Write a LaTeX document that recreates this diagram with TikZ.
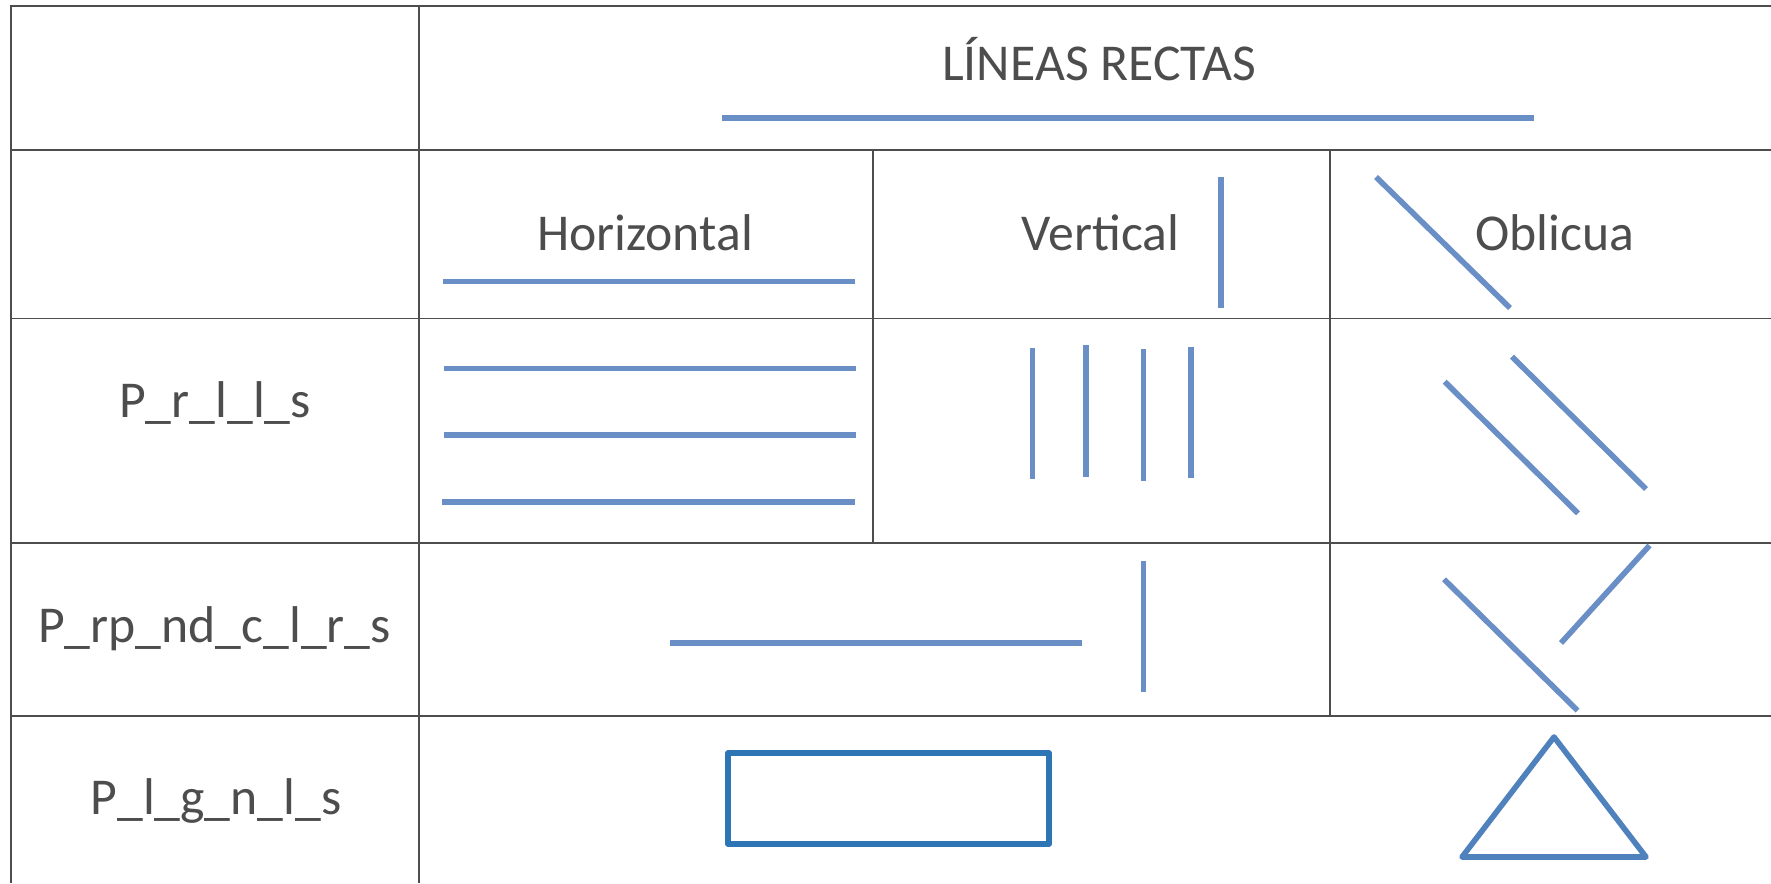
\documentclass[tikz,border=0pt]{standalone}
\usepackage{fontspec}
\setmainfont{Carlito}
\definecolor{gris}{HTML}{4D4D4D}
\definecolor{azulclaro}{HTML}{6A8FC6}
\definecolor{azulfig}{HTML}{2E75B6}
\definecolor{azultri}{HTML}{4F81BD}
\tikzset{
  borde/.style={draw=gris, line width=0.85pt},
  recta/.style={draw=azulclaro, line width=2.8pt},
  figura/.style={line width=2.8pt, line join=round},
  rotulo/.style={anchor=base, text=gris, inner sep=0pt, font=\fontsize{25.85}{31}\selectfont}
}
\begin{document}
\begin{tikzpicture}[x=0.5pt, y=-0.5pt]
      \useasboundingbox (0,0) rectangle (1771,883);
      % cuadricula
      \draw[borde] (1771,6) -- (11,6) -- (11,883);
      \draw[borde] (11,150) -- (1771,150);
      \draw[borde] (11,318.5) -- (1771,318.5);
      \draw[borde] (11,543) -- (1771,543);
      \draw[borde] (11,716) -- (1771,716);
      \draw[borde] (419,6) -- (419,883);
      \draw[borde] (873,150) -- (873,543);
      \draw[borde] (1330,150) -- (1330,716);
      % cabecera
      \node[rotulo] (titulo) at (1099,81) {LÍNEAS RECTAS};
      \draw[recta] (722,118) -- (1534,118);
      \node[rotulo] (horiz) at (645,250) {Horizontal};
      \node[rotulo] (vert) at (1100.5,250) {Vertical};
      \node[rotulo] (obl) at (1555,250) {Oblicua};
      \draw[recta] (443,281.5) -- (855,281.5);
      \draw[recta] (1221,176.7) -- (1221,308.3);
      \draw[recta] (1376,177) -- (1510,308);
      % paralelas
      \node[rotulo] (paral) at (215,417) {P\_r\_l\_l\_s};
      \draw[recta] (443.7,368.3) -- (856,368.3);
      \draw[recta] (443.7,435) -- (856,435);
      \draw[recta] (442,502) -- (855,502);
      \draw[recta] (1032.6,348) -- (1032.6,479.3);
      \draw[recta] (1086,345.3) -- (1086,476.7);
      \draw[recta] (1143.6,349.3) -- (1143.6,480.7);
      \draw[recta] (1190.7,347.3) -- (1190.7,478.3);
      \draw[recta] (1444.7,381.7) -- (1578,513.3);
      \draw[recta] (1512,356.7) -- (1646,489);
      % perpendiculares
      \node[rotulo] (perp) at (214.5,642) {P\_rp\_nd\_c\_l\_r\_s};
      \draw[recta] (670,643) -- (1082,643);
      \draw[recta] (1143.6,560.7) -- (1143.6,691.7);
      \draw[recta] (1444,579.3) -- (1577.5,710.5);
      \draw[recta] (1649.5,545.5) -- (1561,643);
      % poligonos
      \node[rotulo] (polig) at (216,814) {P\_l\_g\_n\_l\_s};
      \draw[figura, draw=azulfig] (728,753) rectangle (1049,844);
      \draw[figura, draw=azultri] (1554,737) -- (1646,857) -- (1462,857) -- cycle;
\end{tikzpicture}
\end{document}
